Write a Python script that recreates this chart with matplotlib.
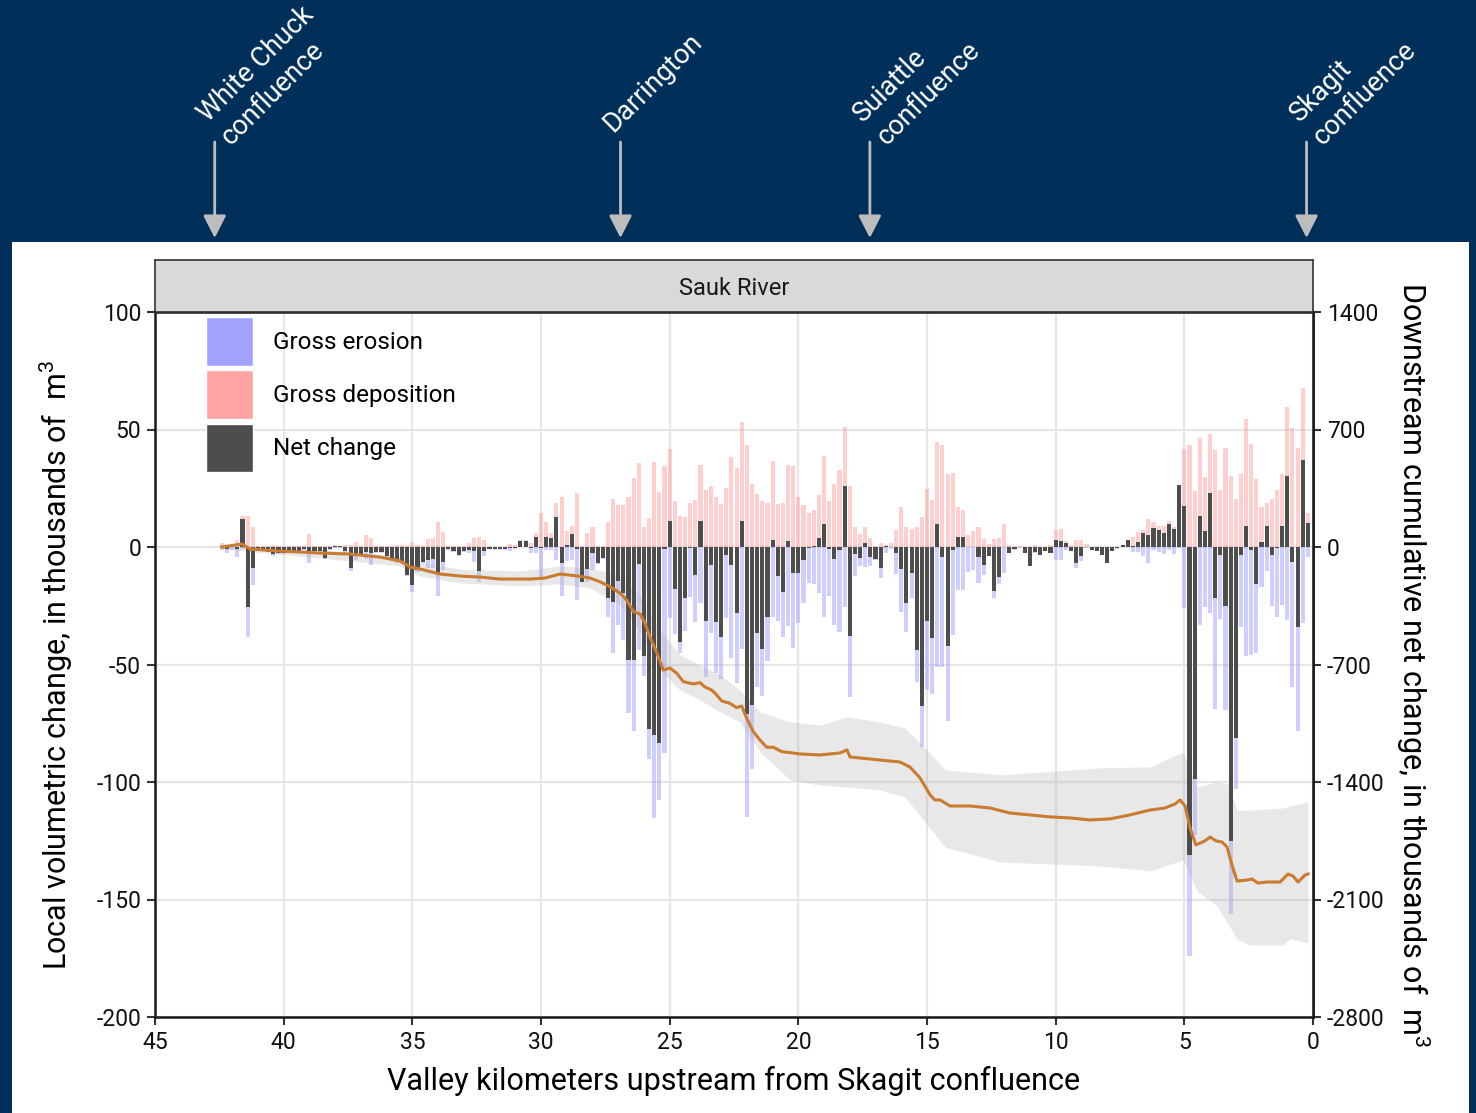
import numpy as np
import matplotlib
matplotlib.use("Agg")
import matplotlib.pyplot as plt
import matplotlib.transforms as mtransforms
from matplotlib.patches import Patch, Rectangle

plt.rcParams["font.family"] = ["Roboto", "DejaVu Sans"]
plt.rcParams["mathtext.fontset"] = "custom"
plt.rcParams["mathtext.rm"] = "Roboto"
plt.rcParams["axes.unicode_minus"] = False

# 0.2 km bins, upstream (42.4 km) to the Skagit confluence (0.2 km)
km = np.round(np.arange(212, 0, -1) * 0.2, 1)

deposition = [
    1.6, 1.0, 1.0, 3.0, 13.0, 13.0, 8.7, 0.3, 0.3, 0.3,
    1.0, 0.5, 0.3, 0.3, 0.3, 0.3, 0.3, 5.4, 0.3, 0.3,
    0.5, 0.3, 0.8, 0.6, 1.0, 1.0, 2.0, 0.5, 5.0, 4.0,
    0.5, 0.5, 0.5, 0.5, 1.0, 1.0, 0.5, 2.3, 1.0, 0.5,
    3.3, 3.7, 10.5, 6.5, 0.3, 0.3, 0.3, 0.3, 1.5, 3.7,
    4.1, 3.0, 0.3, 0.2, 0.2, 0.2, 1.1, 0.8, 2.8, 2.8,
    1.8, 6.1, 14.3, 10.8, 6.1, 18.9, 21.4, 7.0, 9.0, 23.0,
    0.5, 6.1, 8.7, 0.3, 0.3, 10.5, 20.3, 17.9, 17.9, 21.1,
    29.2, 35.6, 8.7, 12.2, 36.3, 23.5, 34.5, 41.7, 19.6, 13.2,
    12.9, 18.6, 20.0, 34.9, 24.3, 26.0, 21.1, 18.2, 25.2, 38.4,
    33.5, 53.3, 43.4, 26.8, 22.6, 19.7, 18.6, 36.6, 18.3, 18.9,
    34.9, 34.5, 21.1, 17.9, 14.3, 15.7, 22.1, 38.7, 19.6, 26.8,
    32.8, 50.9, 26.0, 8.4, 5.5, 8.7, 3.7, 0.5, 1.6, 0.8,
    1.6, 7.2, 17.2, 8.7, 7.5, 8.7, 12.9, 24.5, 20.0, 44.8,
    43.4, 31.1, 31.3, 17.2, 15.7, 5.1, 7.0, 8.4, 3.3, 1.3,
    3.3, 4.0, 9.6, 0.8, 0.2, 0.3, 0.2, 0.2, 0.8, 0.2,
    0.2, 0.8, 7.2, 7.5, 2.6, 0.8, 3.0, 3.0, 1.1, 0.2,
    0.2, 0.2, 0.2, 0.2, 0.2, 1.0, 3.1, 4.4, 6.5, 7.2,
    11.9, 10.5, 8.9, 8.8, 10.9, 8.4, 26.5, 41.9, 43.5, 23.8,
    46.2, 29.8, 47.9, 41.4, 24.1, 42.2, 30.4, 20.3, 30.9, 54.5,
    44.0, 28.8, 17.2, 18.8, 20.3, 24.1, 31.2, 59.7, 50.6, 42.2,
    67.6, 14.3,
]

erosion = [
    -1.3, -2.4, -1.3, -4.4, -1.0, -38.5, -16.0, -1.8, -1.8, -2.3,
    -4.0, -3.0, -2.8, -1.8, -1.8, -1.8, -1.3, -7.0, -1.8, -1.8,
    -5.0, -1.3, -0.3, -0.3, -2.5, -10.0, -5.5, -3.5, -5.0, -7.7,
    -2.5, -2.5, -4.5, -5.5, -7.0, -7.0, -12.5, -19.0, -10.5, -6.7,
    -9.0, -9.0, -21.0, -9.8, -1.3, -2.0, -3.7, -2.0, -2.4, -6.2,
    -14.8, -3.8, -1.0, -1.2, -1.2, -1.2, -1.5, -1.0, -0.2, -0.2,
    -2.7, -2.7, -14.0, -1.3, -1.3, -5.5, -21.0, -6.0, -5.5, -22.7,
    -15.0, -14.8, -9.8, -7.2, -5.0, -29.6, -45.0, -33.2, -39.6, -70.8,
    -78.3, -43.8, -54.9, -90.4, -115.5, -107.7, -87.8, -30.4, -37.0, -45.2,
    -35.6, -21.1, -31.8, -23.7, -55.2, -36.5, -53.8, -56.3, -30.4, -47.4,
    -57.7, -43.5, -114.8, -94.6, -59.4, -63.4, -48.4, -29.6, -31.3, -38.4,
    -33.6, -43.1, -32.5, -23.7, -15.5, -15.7, -19.4, -29.9, -20.9, -33.2,
    -36.0, -25.7, -63.7, -12.3, -8.1, -8.7, -8.1, -5.5, -13.3, -2.7,
    -1.0, -11.5, -27.5, -36.0, -21.8, -57.3, -85.0, -60.8, -62.6, -50.9,
    -50.9, -74.0, -37.4, -18.3, -18.3, -10.5, -9.8, -15.2, -11.9, -4.0,
    -21.8, -15.9, -11.2, -2.5, -1.2, -0.3, -2.5, -8.2, -2.5, -3.6,
    -1.8, -2.5, -5.5, -5.5, -1.3, -1.7, -9.1, -6.0, -0.5, -1.4,
    -1.8, -3.5, -6.8, -1.8, -1.0, -0.2, -0.2, -2.0, -2.0, -3.8,
    -7.0, -1.3, -2.2, -3.0, -1.4, -3.0, -0.5, -25.8, -174.0, -122.5,
    -33.0, -25.4, -27.9, -68.9, -30.6, -69.5, -156.0, -103.0, -34.2, -46.3,
    -45.9, -45.2, -17.2, -10.1, -25.1, -29.8, -24.7, -31.0, -59.4, -78.3,
    -32.2, -4.3,
]

net_change = [
    0.3, -1.0, 0.0, -1.0, 12.0, -25.7, -8.8, -1.5, -1.5, -2.0,
    -3.0, -2.5, -2.5, -1.5, -1.5, -1.5, -1.0, -1.5, -1.5, -1.5,
    -4.5, -1.0, 0.5, 0.3, -1.5, -9.0, -3.0, -3.0, -2.0, -2.5,
    -2.0, -2.0, -4.0, -5.0, -6.0, -6.0, -12.0, -16.0, -9.8, -6.2,
    -5.5, -5.2, -11.0, -6.2, -1.0, -1.7, -3.4, -1.7, -1.3, -1.7,
    -10.0, -1.7, -0.7, -1.0, -1.0, -1.0, -0.5, -0.3, 2.6, 2.6,
    -0.5, 4.4, -0.3, 4.4, 3.8, 12.7, -7.0, 1.0, 5.4, -1.0,
    -14.8, -9.5, -2.7, -7.0, -4.8, -21.8, -23.5, -14.3, -19.7, -48.0,
    -48.0, -7.2, -46.2, -77.6, -80.0, -83.3, -1.0, 11.0, -17.9, -40.6,
    -21.8, -0.5, -11.9, 11.0, -31.3, -7.7, -31.8, -38.2, -3.4, -7.7,
    -27.9, 11.0, -71.0, -67.2, -36.5, -43.5, -29.6, 3.0, -12.2, -19.0,
    2.7, -10.9, -10.9, -5.5, -0.3, 0.4, 4.0, 9.8, -1.0, -5.2,
    -1.3, 26.1, -37.9, -3.0, -4.8, 1.6, -4.1, -5.2, -9.1, 0.5,
    0.0, -2.4, -9.5, -24.0, -11.2, -43.8, -67.7, -31.3, -38.6, 10.0,
    -4.1, -42.1, -1.3, 4.1, 4.1, 0.0, 0.0, -4.4, -7.7, -3.8,
    -18.6, -12.9, 0.0, -2.4, -1.0, 0.0, -2.4, -8.1, -2.0, -3.5,
    -1.7, -2.4, 3.0, 2.6, 1.6, -1.7, -6.7, -3.8, 0.2, -1.3,
    -1.7, -3.4, -6.7, -1.7, -0.5, 0.9, 3.0, 0.4, 2.3, 5.8,
    5.1, 7.9, 7.2, 6.1, 9.9, 7.6, 26.5, 17.5, -131.0, -98.8,
    13.2, 6.9, 23.0, -21.6, -3.3, -25.1, -125.0, -81.3, -3.3, 8.8,
    -1.4, -15.6, 2.0, 8.8, -3.3, -0.3, 8.8, 30.1, -6.5, -34.2,
    37.2, 10.4,
]

# downstream cumulative net change, thousands of m3 (right axis)
cum_km = [
    42.40, 41.62, 41.31, 40.14, 38.59, 37.42, 36.26, 35.48, 35.09, 34.70,
    33.93, 33.15, 32.37, 31.59, 30.43, 29.85, 29.26, 28.56, 28.10, 27.71,
    27.32, 26.93, 26.67, 26.41, 26.15, 25.96, 25.77, 25.50, 25.25, 24.99,
    24.73, 24.47, 24.08, 23.82, 23.63, 23.37, 23.17, 22.98, 22.66, 22.40,
    22.20, 22.01, 21.75, 21.49, 21.23, 20.97, 20.65, 20.32, 19.94, 19.16,
    18.38, 18.11, 17.99, 17.22, 16.83, 16.05, 15.66, 15.27, 14.88, 14.69,
    14.49, 14.11, 13.33, 12.55, 11.77, 11.00, 10.22, 9.44, 8.67, 7.89,
    7.11, 6.33, 5.75, 5.36, 5.17, 4.97, 4.78, 4.55, 4.20, 4.00,
    3.77, 3.54, 3.34, 3.15, 2.95, 2.56, 2.37, 2.14, 1.79, 1.28,
    0.97, 0.78, 0.58, 0.31, 0.19,
]
cum_net = [
    0, 18, -12, -24, -36, -42, -60, -83, -119, -131,
    -161, -173, -179, -191, -191, -185, -161, -173, -185, -207,
    -236, -274, -316, -385, -399, -453, -534, -631, -733, -721,
    -751, -802, -816, -808, -834, -852, -882, -917, -931, -957,
    -947, -1019, -1100, -1150, -1193, -1193, -1219, -1225, -1233, -1239,
    -1227, -1209, -1251, -1263, -1269, -1281, -1311, -1376, -1477, -1507,
    -1507, -1543, -1543, -1555, -1585, -1596, -1608, -1614, -1626, -1620,
    -1596, -1567, -1555, -1531, -1507, -1543, -1674, -1775, -1751, -1728,
    -1751, -1757, -1787, -1894, -1990, -1984, -1978, -2002, -1996, -1996,
    -1948, -1960, -1996, -1954, -1948,
]

band_km = [
    42.40, 39.37, 35.48, 34.70, 33.15, 30.82, 29.26, 28.10, 26.93, 26.15,
    25.38, 24.60, 23.82, 23.04, 22.27, 21.49, 20.32, 19.16, 18.11, 16.83,
    15.86, 15.08, 14.30, 12.16, 8.28, 6.33, 5.05, 4.51, 3.73, 3.30,
    2.95, 2.45, 1.17, 0.89, 0.19,
]
band_hi = [
    12, -6, -54, -89, -131, -143, -113, -125, -167, -286,
    -495, -643, -703, -762, -852, -983, -1042, -1060, -1012, -1042,
    -1078, -1197, -1328, -1358, -1316, -1310, -1221, -1430, -1400, -1412,
    -1567, -1567, -1555, -1543, -1519,
]
band_lo = [
    -12, -54, -113, -173, -214, -232, -220, -244, -345, -506,
    -733, -852, -911, -983, -1042, -1221, -1388, -1418, -1430, -1448,
    -1489, -1638, -1787, -1876, -1900, -1930, -1864, -2049, -2138, -2246,
    -2335, -2371, -2371, -2335, -2359,
]

landmarks = ["White Chuck\nconfluence", "Darrington", "Suiattle\nconfluence", "Skagit\nconfluence"]
landmark_km = [42.68, 26.91, 17.22, 0.25]

RATIO = 14  # right axis units per left axis unit
NAVY = "#00305a"
W, H = 1476, 1113

fig = plt.figure(figsize=(W / 100, H / 100), dpi=100, facecolor=NAVY)
fig.patches.append(Rectangle((12 / W, 0), 1457 / W, 871 / H, transform=fig.transFigure,
                             facecolor="white", edgecolor="none", zorder=-1))

ax = fig.add_axes([155 / W, 96 / H, 1158 / W, 705 / H])
ax.set_facecolor("white")

bw = 0.16
ax.bar(km, deposition, width=bw, color="#ffa0a0", alpha=0.5, lw=0, zorder=2)
ax.bar(km, erosion, width=bw, color="#a0a0ff", alpha=0.5, lw=0, zorder=2)
ax.fill_between(band_km, np.array(band_lo) / RATIO, np.array(band_hi) / RATIO,
                color="#b3b3b3", alpha=0.3, lw=0, zorder=2.5)
ax.bar(km, net_change, width=bw, color="#4d4d4d", lw=0, zorder=3)
ax.plot(cum_km, np.array(cum_net) / RATIO, color="#c97b2f", lw=2.2, zorder=4)

ax.set_xlim(45, 0)
ax.set_ylim(-200, 100)
ax.set_xticks(np.arange(0, 50, 5))
ax.set_yticks(np.arange(-200, 150, 50))
ax.grid(True, color="#e6e6e6", lw=1.5)
ax.set_axisbelow(True)
for s in ax.spines.values():
    s.set_color("#1a1a1a")
    s.set_linewidth(1.8)
ax.tick_params(length=6, width=1.5, color="#333333", labelsize=16.5, labelcolor="#111111", pad=4)

sec = ax.secondary_yaxis("right", functions=(lambda v: v * RATIO, lambda v: v / RATIO))
sec.set_yticks(np.arange(-2800, 2100, 700))
sec.tick_params(length=6, width=1.5, color="#333333", labelsize=16.5, labelcolor="#111111", pad=4)
sec.spines["right"].set_color("#1a1a1a")
sec.spines["right"].set_linewidth(1.8)

ax.set_xlabel("Valley kilometers upstream from Skagit confluence", fontsize=22, labelpad=9)
ax.set_ylabel(r"Local volumetric change, in thousands of  m$^{\mathregular{3}}$", fontsize=22, labelpad=15)
sec.set_ylabel(r"Downstream cumulative net change, in thousands of  m$^{\mathregular{3}}$",
               fontsize=22, rotation=270, va="bottom", labelpad=7)

handles = [
    Patch(facecolor="#a3a3ff", edgecolor="white", label="Gross erosion"),
    Patch(facecolor="#ffa3a3", edgecolor="white", label="Gross deposition"),
    Patch(facecolor="#4d4d4d", edgecolor="white", label="Net change"),
]
ax.legend(handles=handles, loc="upper left", bbox_to_anchor=(0.044, 0.993), frameon=False,
          fontsize=17.5, handlelength=1.95, handleheight=2.7, labelspacing=0.2,
          handletextpad=0.8, borderaxespad=0, borderpad=0)

# facet strip
strip = fig.add_axes([155 / W, 801 / H, 1158 / W, 52 / H])
strip.set_facecolor("#d9d9d9")
strip.set_xticks([])
strip.set_yticks([])
for s in strip.spines.values():
    s.set_color("#333333")
    s.set_linewidth(1.2)
strip.text(0.5, 0.45, "Sauk River", ha="center", va="center", fontsize=17, color="#1a1a1a")

# landmarks above the panel
trans = mtransforms.blended_transform_factory(ax.transData, fig.transFigure)
arrow_top = (H - 142) / H
arrow_tip = (H - 238) / H
for name, k in zip(landmarks, landmark_km):
    ax.annotate("", xy=(k, arrow_tip), xytext=(k, arrow_top), xycoords=trans,
                annotation_clip=False,
                arrowprops=dict(arrowstyle="-|>,head_length=0.55,head_width=0.28",
                                color="#bdbdbd", lw=2, shrinkA=0, shrinkB=0, mutation_scale=25))
    multi = "\n" in name
    ax.annotate(name, xy=(k, arrow_top), xycoords=trans,
                xytext=(12 if multi else -7, 0 if multi else 9), textcoords="offset pixels",
                rotation=45, rotation_mode="anchor", ha="left", va="baseline",
                color="white", fontsize=19.5, linespacing=1.3,
                annotation_clip=False)

fig.savefig("out.png", dpi=100, facecolor=NAVY)
